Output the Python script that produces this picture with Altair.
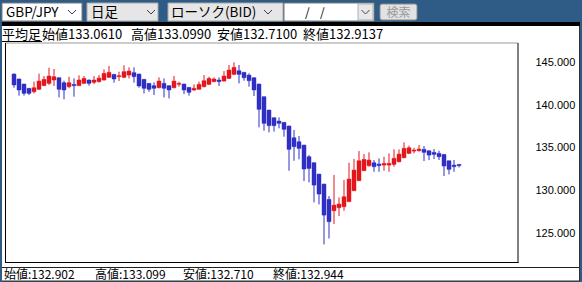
import altair as alt
import pandas as pd

# ---------------- data (Heikin-Ashi daily candles, GBP/JPY BID) ----------------
opens = [143.63, 143.05, 142.46, 141.96, 141.56, 141.84, 142.27, 142.54, 142.93, 143.20,
         142.62, 142.15, 142.42, 142.27, 142.54, 142.93, 142.66, 142.74, 142.93, 143.24,
         143.59, 143.32, 143.24, 143.51, 143.79, 143.63, 143.01, 142.54, 142.27, 142.03,
         142.54, 142.27, 142.03, 142.42, 142.46, 142.07, 141.76, 141.84, 142.15, 142.42,
         142.74, 142.93, 142.81, 143.12, 143.59, 144.02, 143.83, 143.51, 143.20, 142.46,
         140.98, 139.42, 138.52, 138.13, 137.98, 137.55, 136.18, 135.71, 135.32, 133.96,
         133.26, 131.93, 130.76, 128.97, 127.64, 127.99, 128.11, 128.70, 129.98, 131.15,
         132.32, 132.91, 133.26, 133.10, 132.98, 132.98, 133.06, 133.37, 133.84, 134.35,
         134.62, 134.66, 134.82, 134.66, 134.47, 134.35, 134.23, 133.49, 132.98, 133.061]
closes = [142.35, 141.76, 141.37, 141.37, 142.03, 142.81, 143.01, 143.40, 143.32, 141.84,
          141.76, 142.62, 142.27, 142.93, 143.12, 142.54, 142.93, 143.16, 143.71, 143.83,
          143.05, 143.44, 143.91, 143.98, 143.32, 142.23, 141.96, 141.84, 141.96, 142.81,
          141.96, 141.76, 142.81, 142.54, 141.76, 141.49, 141.96, 142.42, 142.85, 143.12,
          143.05, 142.74, 143.40, 144.10, 144.41, 143.59, 143.20, 142.85, 141.76, 139.50,
          137.86, 137.59, 137.59, 137.86, 137.16, 134.82, 135.13, 134.93, 132.52, 132.59,
          130.64, 129.59, 127.13, 126.36, 128.30, 128.42, 129.28, 131.35, 132.40, 133.49,
          133.65, 133.57, 132.79, 132.91, 133.18, 133.18, 133.77, 134.27, 134.94, 135.01,
          134.74, 134.86, 134.47, 134.15, 134.23, 133.96, 132.87, 132.48, 132.79, 132.914]
highs = [143.71, 143.10, 142.50, 142.00, 142.74, 143.67, 143.40, 144.37, 144.22, 143.24,
         142.85, 143.32, 143.12, 143.48, 143.40, 143.00, 143.40, 143.51, 144.18, 144.57,
         143.65, 143.91, 144.65, 144.41, 144.41, 143.67, 143.05, 142.58, 142.66, 143.24,
         143.12, 142.30, 143.40, 142.74, 142.50, 142.10, 142.42, 142.74, 143.51, 143.32,
         143.24, 143.24, 143.98, 144.69, 145.00, 144.69, 143.85, 143.71, 143.24, 142.50,
         141.00, 139.45, 138.56, 138.56, 138.00, 137.60, 137.08, 136.38, 135.35, 134.15,
         133.30, 131.95, 130.80, 129.36, 131.82, 129.20, 131.23, 133.26, 133.69, 134.62,
         134.27, 134.47, 133.57, 133.77, 133.96, 134.35, 134.82, 134.82, 135.64, 135.25,
         135.01, 135.33, 135.21, 134.70, 134.86, 134.66, 134.27, 133.50, 133.57, 133.099]
lows = [142.03, 141.10, 141.10, 141.17, 141.37, 141.76, 142.23, 142.35, 142.23, 140.90,
        140.67, 141.96, 140.98, 142.23, 142.46, 142.27, 142.46, 142.62, 142.85, 143.20,
        142.62, 142.81, 143.16, 143.12, 142.62, 142.03, 141.37, 141.56, 141.17, 141.96,
        140.90, 140.78, 141.96, 142.15, 141.29, 141.10, 141.64, 141.84, 142.07, 142.35,
        142.66, 142.23, 142.74, 143.05, 143.51, 142.54, 142.85, 142.15, 141.06, 137.39,
        137.00, 136.81, 136.89, 137.28, 136.30, 132.32, 133.49, 133.65, 131.11, 130.96,
        128.62, 128.38, 123.70, 124.40, 126.08, 127.02, 127.64, 128.70, 129.98, 131.15,
        132.32, 132.79, 132.20, 132.20, 132.32, 132.20, 132.79, 133.30, 133.77, 134.27,
        134.35, 134.55, 133.45, 133.57, 133.69, 133.57, 131.70, 131.89, 132.20, 132.71]
y_ticks = [125, 130, 135, 140, 145]

header_labels = ["平均足", "始値133.0610", "高値133.0990", "安値132.7100", "終値132.9137"]
status_labels = ["始値:132.902", "高値:133.099", "安値:132.710", "終値:132.944"]
toolbar_labels = ["GBP/JPY", "日足", "ローソク(BID)", "検索"]

df = pd.DataFrame({"i": list(range(len(opens))), "open": opens, "close": closes,
                   "high": highs, "low": lows})
df["dir"] = ["up" if c >= o else "down" for o, c in zip(opens, closes)]

# ---------------- layout ----------------
X0, Y0 = 5, 43          # plot area origin in page pixels
PW, PH = 513, 220       # plot area size
dummy = pd.DataFrame({"k": [0]})

BLUE_BG = "#2f5c86"
CANDLE_UP = "#e3161c"
CANDLE_DN = "#2f2fc4"


def rect(x1, y1, x2, y2, fill, stroke=None, sw=1, radius=0):
    kw = dict(fill=fill)
    if stroke:
        kw.update(stroke=stroke, strokeWidth=sw)
    if radius:
        kw.update(cornerRadius=radius)
    return alt.Chart(dummy).mark_rect(**kw).encode(
        x=alt.value(x1 - X0), x2=alt.value(x2 - X0),
        y=alt.value(y1 - Y0), y2=alt.value(y2 - Y0))


def line(x1, y1, x2, y2, color, sw=1):
    return alt.Chart(dummy).mark_rule(color=color, strokeWidth=sw).encode(
        x=alt.value(x1 - X0), x2=alt.value(x2 - X0),
        y=alt.value(y1 - Y0), y2=alt.value(y2 - Y0))


def text(x, y, s, size=13, color="#000000", font="Noto Sans CJK JP", align="left"):
    return alt.Chart(dummy).mark_text(text=s, align=align, baseline="middle",
                                      font=font, fontSize=size, color=color).encode(
        x=alt.value(x - X0), y=alt.value(y - Y0))


def chevron(cx, y, color="#404040"):
    return [line(cx - 4, y - 2.5, cx, y + 1.5, color), line(cx, y + 1.5, cx + 4, y - 2.5, color)]


layers = []
# page chrome
layers.append(rect(2, 26, 580, 281, "#ffffff"))
layers.append(rect(2, 22, 580, 26, "#000000"))
# toolbar controls
layers.append(rect(2, 3, 82, 21, "#ffffff", "#7a7a7a"))
layers.append(rect(87, 3, 158, 21, "#e6e6e6", "#a8a8a8"))
layers.append(rect(168, 3, 283, 21, "#e6e6e6", "#a8a8a8"))
layers.append(rect(284, 3, 374, 21, "#ffffff", "#7a7a7a"))
layers.append(rect(358, 4, 373, 20, "#e8e8e8", "#b0b0b0"))
layers.append(rect(380, 4, 417, 20, "#e2e2e2", "#8a8a8a", radius=2))
layers += chevron(72, 12.5) + chevron(151, 12.5) + chevron(268, 12.5) + chevron(365.5, 12.5)
layers.append(text(6, 12.5, toolbar_labels[0], 13.5))
layers.append(text(91, 12.5, toolbar_labels[1], 13.5))
layers.append(text(171, 12.5, toolbar_labels[2], 13.5))
layers.append(text(305, 12.5, "/", 12))
layers.append(text(320, 12.5, "/", 12))
layers.append(text(398.5, 12.5, toolbar_labels[3], 12, color="#9a9a9a", align="center"))
# header line
for xx, s in zip([2, 42, 131, 217, 303], header_labels):
    layers.append(text(xx, 34.5, s, 13))
layers.append(line(2, 41.5, 42, 41.5, "#000000"))
# status line
layers.append(line(2, 267.5, 580, 267.5, "#202020"))
layers.append(line(579.5, 26, 579.5, 281, "#303030"))
layers.append(line(2, 281, 580, 281, "#303030"))
for xx, s in zip([4, 95, 183, 273], status_labels):
    layers.append(text(xx, 274.5, s, 12))

# candles
xs = alt.Scale(domain=[-0.8, 99.8], nice=False, zero=False)
ys = alt.Scale(domain=[121.53, 147.26], nice=False, zero=False)
col = alt.Color("dir:N", scale=alt.Scale(domain=["up", "down"], range=[CANDLE_UP, CANDLE_DN]),
                legend=None)
yaxis = alt.Axis(orient="right", values=y_ticks, format=".3f", grid=False, ticks=False,
                 tickSize=0, domain=False, labelPadding=17, labelFont="Liberation Sans",
                 labelFontSize=11, labelColor="#000000", title=None, zindex=2)
base = alt.Chart(df)
wicks = base.mark_rule(strokeWidth=1).encode(
    x=alt.X("i:Q", scale=xs, axis=None),
    y=alt.Y("high:Q", scale=ys, axis=yaxis),
    y2="low:Q", color=col)
bodies = base.mark_bar(size=4, strokeWidth=1, strokeOpacity=0.45).encode(
    x=alt.X("i:Q", scale=xs, axis=None),
    y=alt.Y("open:Q", scale=ys, axis=yaxis),
    y2="close:Q", color=col, stroke=col)
layers += [wicks, bodies]

# plot frame
layers.append(line(5, 43, 518, 43, "#9a9a9a"))
layers.append(line(5.5, 43, 5.5, 263, "#000000"))
layers.append(line(518, 43, 518, 263, "#000000"))
layers.append(line(5, 262.5, 518.5, 262.5, "#000000"))

chart = alt.layer(*layers).properties(
    width=PW, height=PH,
    padding={"left": X0, "top": Y0, "right": 582 - X0 - PW, "bottom": 282 - Y0 - PH},
    autosize=alt.AutoSizeParams(type="none"),
    background=BLUE_BG,
).configure_view(stroke=None)

chart.save("out.html", embed_options={"renderer": "svg", "actions": False})
